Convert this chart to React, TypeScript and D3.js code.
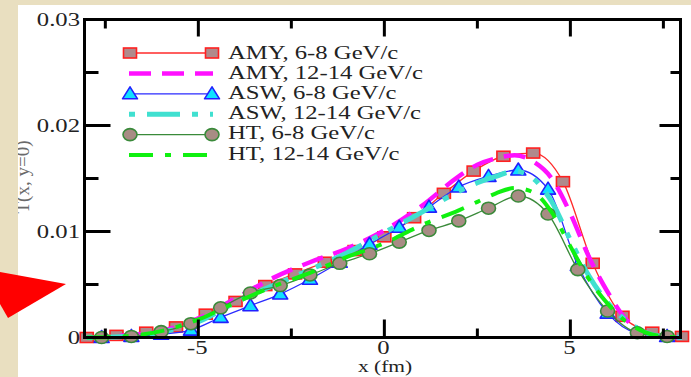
import React from 'react';
import * as d3 from 'd3';

const W = 691;
const H = 377;

// Sample positions of the marker curves
const amyX = [-8, -7.2, -6.4, -5.6, -4.8, -4, -3.2, -2.4, -1.6, -0.8, 0, 0.8, 1.6, 2.4, 3.2, 4, 4.8, 5.6, 6.4, 7.2, 8];
const midX = [-7.6, -6.8, -6, -5.2, -4.4, -3.6, -2.8, -2, -1.2, -0.4, 0.4, 1.2, 2, 2.8, 3.6, 4.4, 5.2, 6, 6.8, 7.6];
// Sample positions of the line-only curves
const denseX = [-8, -7, -6, -5, -4, -3, -2, -1, 0, 1, 2, 2.5, 3, 3.5, 4, 4.5, 5, 5.5, 6, 6.5, 7, 7.5, 8];

const amyLow = [0, 0.0002, 0.0005, 0.001, 0.0022, 0.0034, 0.0049, 0.006, 0.0071, 0.0082, 0.0095, 0.0113, 0.0136, 0.0157, 0.0171, 0.0174, 0.0147, 0.007, 0.002, 0.0005, 0.0001];
const aswLow = [0, 0.0001, 0.0003, 0.0007, 0.0019, 0.003, 0.0041, 0.0055, 0.0071, 0.0088, 0.0104, 0.0123, 0.0142, 0.0152, 0.0158, 0.014, 0.0068, 0.0023, 0.0004, 0.0001];
const htLow = [0, 0.0001, 0.00055, 0.0013, 0.0028, 0.0042, 0.0049, 0.0059, 0.007, 0.0079, 0.009, 0.0101, 0.011, 0.0122, 0.01335, 0.01165, 0.0064, 0.0025, 0.00045, 0.0001];

const amyHigh = [0, 0.0002, 0.0006, 0.0018, 0.0037, 0.0056, 0.0071, 0.0084, 0.0101, 0.0124, 0.0152, 0.0163, 0.0169, 0.0172, 0.0166, 0.015, 0.0117, 0.0076, 0.0043, 0.0017, 0.0005, 0.0001, 0];
const aswHigh = [0, 0.0001, 0.0005, 0.0015, 0.0033, 0.0049, 0.0064, 0.008, 0.0099, 0.0118, 0.0138, 0.0146, 0.0152, 0.0157, 0.015, 0.0128, 0.0092, 0.0058, 0.0033, 0.0016, 0.0005, 0.0001, 0];
const htHigh = [0, 0.0001, 0.0006, 0.0017, 0.0033, 0.0048, 0.0061, 0.0076, 0.0089, 0.0106, 0.012, 0.0128, 0.0136, 0.0141, 0.0137, 0.0118, 0.0086, 0.0055, 0.0032, 0.0015, 0.0005, 0.0001, 0];

const legendLabels = [
  'AMY, 6-8 GeV/c',
  'AMY, 12-14 GeV/c',
  'ASW, 6-8 GeV/c',
  'ASW, 12-14 GeV/c',
  'HT, 6-8 GeV/c',
  'HT, 12-14 GeV/c',
];

const xMajor = [-5, 0, 5];
const xMinor = [-7.5, -2.5, 2.5, 7.5];
const xTickLabels = ['-5', '0', '5'];
const yMajor = [0, 0.01, 0.02, 0.03];
const yMinor = [0.005, 0.015, 0.025];
const yTickLabels = ['0', '0.01', '0.02', '0.03'];

const FONT = '"Liberation Serif", "Times New Roman", serif';
const SX = 1.3; // horizontal text stretch

const left = 84.5;
const right = 680.5;
const top = 19.5;
const bottom = 337.5;

const x = d3.scaleLinear().domain([-8.06, 7.96]).range([left, right]);
const y = d3.scaleLinear().domain([0, 0.03]).range([bottom, top]);

type Style = {
  color: string;
  width: number;
  dash?: string;
  offset?: number;
  marker?: 'square' | 'triangle' | 'circle';
  mFill?: string;
  mStroke?: string;
};

const styles: Style[] = [
  { color: '#ff2a2a', width: 1.3, marker: 'square', mFill: '#b08a8c', mStroke: '#ff2020' },
  { color: '#ff10ff', width: 4.5, dash: '22 11' },
  { color: '#2a2aff', width: 1.3, marker: 'triangle', mFill: '#10e0ff', mStroke: '#2020ff' },
  { color: '#40e0d0', width: 5, dash: '33 12 6 12 6 12', offset: 63 },
  { color: '#3a8a3a', width: 1.3, marker: 'circle', mFill: '#a88c84', mStroke: '#3a8a3a' },
  { color: '#10f010', width: 4, dash: '24 12 6 12' },
];

const seriesXs = [amyX, denseX, midX, denseX, midX, denseX];
const seriesYs = [amyLow, amyHigh, aswLow, aswHigh, htLow, htHigh];

const lineGen = d3
  .line<[number, number]>()
  .x((d) => x(d[0]))
  .y((d) => y(d[1]))
  .curve(d3.curveMonotoneX);

function Marker({ kind, cx, cy, fill, stroke }: { kind: string; cx: number; cy: number; fill: string; stroke: string }) {
  if (kind === 'square') {
    return <rect x={cx - 6.5} y={cy - 5} width={13} height={10} fill={fill} stroke={stroke} strokeWidth={1.6} />;
  }
  if (kind === 'triangle') {
    const p = `${cx},${cy - 7} ${cx + 7.5},${cy + 5} ${cx - 7.5},${cy + 5}`;
    return <polygon points={p} fill={fill} stroke={stroke} strokeWidth={1.6} strokeLinejoin="round" />;
  }
  return <ellipse cx={cx} cy={cy} rx={7} ry={6} fill={fill} stroke={stroke} strokeWidth={1.6} />;
}

function SText({ tx, ty, anchor, children, fill = '#222', size = 19 }: any) {
  return (
    <text
      transform={`translate(${tx},${ty}) scale(${SX},1)`}
      textAnchor={anchor}
      fontFamily={FONT}
      fontSize={size}
      fill={fill}
    >
      {children}
    </text>
  );
}

export default function App() {
  const legendY0 = 53;
  const legendStep = 20.4;
  const lx1 = 130;
  const lx2 = 212;

  return (
    <svg width={W} height={H} style={{ position: 'absolute', left: 0, top: 0 }}>
      <defs>
        <clipPath id="panelClip">
          <rect x={18} y={5} width={W - 18} height={H - 5} />
        </clipPath>
      </defs>
      <rect x={0} y={0} width={W} height={H} fill="#e9dfc0" />
      <rect x={18} y={5} width={W - 18} height={H - 5} fill="#ffffff" />

      {/* y axis title, partly hidden by the panel edge */}
      <g clipPath="url(#panelClip)">
        <text
          transform={`translate(28.5,177) rotate(-90)`}
          textAnchor="middle"
          fontFamily={FONT}
          fontSize={19}
          fill="#6a6a6a"
        >
          T(x, y=0)
        </text>
      </g>

      {/* data curves */}
      {styles.map((s, i) => {
        const pts: [number, number][] = seriesXs[i].map((v, j) => [v, seriesYs[i][j]]);
        return (
          <g key={i}>
            <path
              d={lineGen(pts) || ''}
              fill="none"
              stroke={s.color}
              strokeWidth={s.width}
              strokeDasharray={s.dash}
              strokeDashoffset={s.offset}
            />
            {s.marker &&
              pts.map((p, j) => (
                <Marker key={j} kind={s.marker!} cx={x(p[0])} cy={y(p[1])} fill={s.mFill!} stroke={s.mStroke!} />
              ))}
          </g>
        );
      })}

      {/* legend */}
      {styles.map((s, i) => {
        const ly = legendY0 + legendStep * i;
        return (
          <g key={'lg' + i}>
            <line
              x1={lx1 - (s.marker ? 0 : 1)}
              x2={lx2 + (s.marker ? 0 : 1)}
              y1={ly}
              y2={ly}
              stroke={s.color}
              strokeWidth={s.width}
              strokeDasharray={s.dash}
              strokeDashoffset={s.offset}
            />
            {s.marker && (
              <>
                <Marker kind={s.marker} cx={lx1} cy={ly} fill={s.mFill!} stroke={s.mStroke!} />
                <Marker kind={s.marker} cx={lx2} cy={ly} fill={s.mFill!} stroke={s.mStroke!} />
              </>
            )}
            <SText tx={228} ty={59 + 20.1 * i} anchor="start">
              {legendLabels[i]}
            </SText>
          </g>
        );
      })}

      {/* frame */}
      <rect x={left} y={top} width={right - left} height={bottom - top} fill="none" stroke="#000" strokeWidth={3} />

      {/* x ticks, bottom and top */}
      {xMajor.map((t) => (
        <g key={'xM' + t}>
          <line x1={x(t)} x2={x(t)} y1={bottom} y2={bottom - 18} stroke="#000" strokeWidth={3} />
          <line x1={x(t)} x2={x(t)} y1={top} y2={top + 17} stroke="#000" strokeWidth={3} />
        </g>
      ))}
      {xMinor.map((t) => (
        <g key={'xm' + t}>
          <line x1={x(t)} x2={x(t)} y1={bottom} y2={bottom - 9} stroke="#000" strokeWidth={3} />
          <line x1={x(t)} x2={x(t)} y1={top} y2={top + 9} stroke="#000" strokeWidth={3} />
        </g>
      ))}

      {/* y ticks, left and right */}
      {yMajor.map((t) => (
        <g key={'yM' + t}>
          <line x1={left} x2={left + 26} y1={y(t)} y2={y(t)} stroke="#000" strokeWidth={3} />
          <line x1={right} x2={right - 21} y1={y(t)} y2={y(t)} stroke="#000" strokeWidth={3} />
        </g>
      ))}
      {yMinor.map((t) => (
        <g key={'ym' + t}>
          <line x1={left} x2={left + 14} y1={y(t)} y2={y(t)} stroke="#000" strokeWidth={3} />
          <line x1={right} x2={right - 10} y1={y(t)} y2={y(t)} stroke="#000" strokeWidth={3} />
        </g>
      ))}

      {/* tick labels */}
      {xMajor.map((t, i) => (
        <SText key={'xl' + t} tx={x(t) - 1} ty={354} anchor="middle">
          {xTickLabels[i]}
        </SText>
      ))}
      {yMajor.map((t, i) => (
        <SText key={'yl' + t} tx={80} ty={y(t) + 6.5} anchor="end">
          {yTickLabels[i]}
        </SText>
      ))}

      {/* x axis title */}
      <SText tx={385} ty={372} anchor="middle" size={16.5}>
        x (fm)
      </SText>

      {/* pointer arrow */}
      <polygon points="0,272 66,284 8,318 0,304" fill="#ff0000" />
    </svg>
  );
}
